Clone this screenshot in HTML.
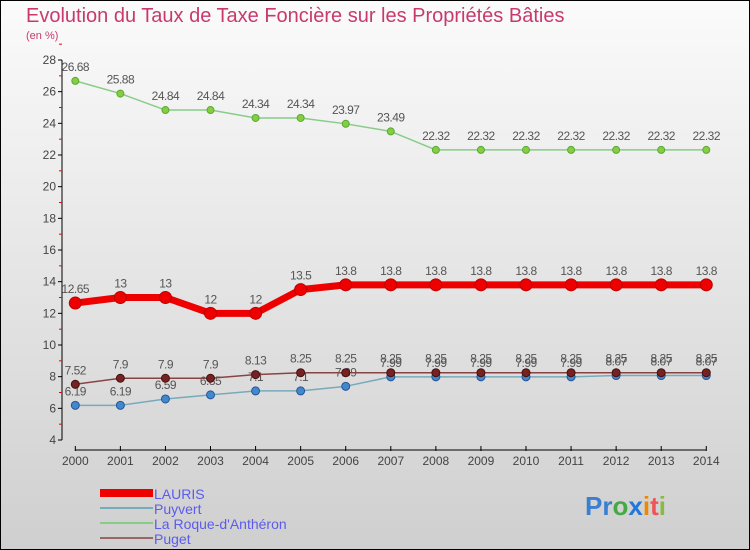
<!DOCTYPE html>
<html><head><meta charset="utf-8"><style>
body{margin:0}
#c{width:750px;height:550px;position:relative;overflow:hidden;font-family:"Liberation Sans",sans-serif;}
</style></head><body>
<div id="c">
<svg id="s" width="750" height="550" xmlns="http://www.w3.org/2000/svg">
<defs><linearGradient id="bg" x1="0" y1="0" x2="0" y2="1"><stop offset="0" stop-color="#fbfbfb"/><stop offset="1" stop-color="#cfcfcf"/></linearGradient></defs>
<rect x="0.5" y="0.5" width="749" height="549" fill="url(#bg)" stroke="#000" stroke-width="1"/>
<text x="26" y="22" font-size="20" fill="#c83a6e">Evolution du Taux de Taxe Foncière sur les Propriétés Bâties</text>
<text x="26" y="39" font-size="11" fill="#c83a6e">(en %)</text>
<g id="axes"></g><g id="series"></g>
<g font-size="14" fill="#5b5bee">
<rect x="100" y="489" width="53" height="8" fill="#e00"/>
<text x="154" y="499">LAURIS</text>
<line x1="100" y1="508" x2="153" y2="508" stroke="#7ab" stroke-width="2"/>
<text x="154" y="514">Puyvert</text>
<line x1="100" y1="523" x2="153" y2="523" stroke="#8c8" stroke-width="2"/>
<text x="154" y="529">La Roque-d'Anthéron</text>
<line x1="100" y1="538" x2="153" y2="538" stroke="#966" stroke-width="2"/>
<text x="154" y="544">Puget</text>
</g>
<g font-size="26" font-weight="bold">
<text x="585" y="515"><tspan fill="#3a7fd0">Pr</tspan><tspan fill="#4a4">o</tspan><tspan fill="#2277dd">x</tspan><tspan fill="#e80">i</tspan><tspan fill="#e55">t</tspan><tspan fill="#8b4">i</tspan></text>
</g>
</svg>
</div>
<script>
const years=[2000,2001,2002,2003,2004,2005,2006,2007,2008,2009,2010,2011,2012,2013,2014];
const yTicks=[4,6,8,10,12,14,16,18,20,22,24,26,28];
const lauris=[12.65,13,13,12,12,13.5,13.8,13.8,13.8,13.8,13.8,13.8,13.8,13.8,13.8];
const puyvert=[6.19,6.19,6.59,6.85,7.1,7.1,7.39,7.99,7.99,7.99,7.99,7.99,8.07,8.07,8.07];
const roque=[26.68,25.88,24.84,24.84,24.34,24.34,23.97,23.49,22.32,22.32,22.32,22.32,22.32,22.32,22.32];
const puget=[7.52,7.9,7.9,7.9,8.13,8.25,8.25,8.25,8.25,8.25,8.25,8.25,8.25,8.25,8.25];
const NS="http://www.w3.org/2000/svg";
const X=i=>75.3+i*45.07;
const Y=v=>440-(v-4)*(380/24);
function mk(t,a,p){const e=document.createElementNS(NS,t);for(const k in a)e.setAttribute(k,a[k]);p.appendChild(e);return e;}
const ax=document.getElementById('axes');
const yl=mk('line',{x1:62,y1:60,x2:62,y2:440,stroke:'#000'},ax);


yTicks.forEach(v=>{
  mk('line',{x1:58,y1:Y(v),x2:62,y2:Y(v),stroke:'#000'},ax);
  mk('line',{x1:59,y1:Y(v+1),x2:62,y2:Y(v+1),stroke:'#e00'},ax);
  const t=mk('text',{x:56,y:Y(v)+4,'text-anchor':'end','font-size':12,fill:'#444'},ax);
  
  
  t.textContent=v;
});
const xl=mk('line',{x1:75,y1:450,x2:706,y2:450,stroke:'#000'},ax);


years.forEach((yr,i)=>{
  mk('line',{x1:X(i),y1:446,x2:X(i),y2:451,stroke:'#000'},ax);
  const t=mk('text',{x:X(i),y:465,'text-anchor':'middle','font-size':12,fill:'#444'},ax);
  
  
  t.textContent=yr;
});
const sg=document.getElementById('series');
function series(name,data,color,w,dot,dotStroke,r){
  const g=mk('g',{},sg);
  
  
  const l=mk('polyline',{points:data.map((v,i)=>X(i)+','+Y(v)).join(' '),fill:'none',stroke:color,'stroke-width':w,'stroke-linejoin':'round'},g);
  
  
  data.forEach((v,i)=>{
    const c=mk('circle',{cx:X(i),cy:Y(v),r:r,fill:dot,stroke:dotStroke,'stroke-width':1},g);
    
    
    const t=mk('text',{x:X(i),y:Y(v)-10,'text-anchor':'middle','font-size':12,fill:'#555','letter-spacing':'-0.5'},g);
    
    
    t.textContent=v;
  });
}
series('roque',roque,'#8c8',1.5,'#8c4','#5a3',3.5);
series('puyvert',puyvert,'#7ab',1.5,'#48c','#259',4);
series('puget',puget,'#844',1.5,'#722','#411',4);
series('lauris',lauris,'#e00',7,'#e00','#b00',6);
</script>
</body></html>
